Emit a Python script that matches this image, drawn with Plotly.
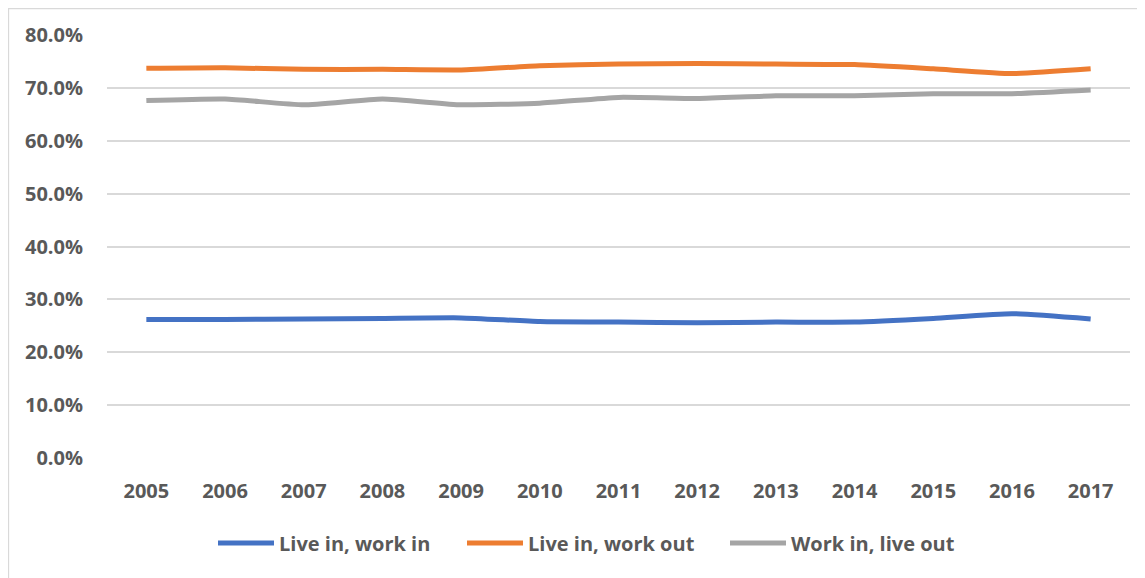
import plotly.graph_objects as go

years = ["2005", "2006", "2007", "2008", "2009", "2010", "2011",
         "2012", "2013", "2014", "2015", "2016", "2017"]
live_in_work_in = [0.262, 0.262, 0.263, 0.264, 0.265, 0.258, 0.257,
                   0.256, 0.257, 0.257, 0.264, 0.273, 0.263]
live_in_work_out = [0.737, 0.738, 0.735, 0.735, 0.734, 0.742, 0.745,
                    0.746, 0.745, 0.744, 0.736, 0.727, 0.736]
work_in_live_out = [0.676, 0.679, 0.668, 0.679, 0.668, 0.671, 0.682,
                    0.680, 0.685, 0.685, 0.689, 0.689, 0.696]
y_ticks = [0, 0.1, 0.2, 0.3, 0.4, 0.5, 0.6, 0.7, 0.8]

series_names = ["Live in, work in", "Live in, work out", "Work in, live out"]
series_values = [live_in_work_in, live_in_work_out, work_in_live_out]
series_colors = ["#4472C4", "#ED7D31", "#A5A5A5"]

font_family = "Open Sans, Liberation Sans, sans-serif"

fig = go.Figure()
for name, vals, color in zip(series_names, series_values, series_colors):
    fig.add_trace(go.Scatter(
        x=years, y=vals, name=name, mode="lines",
        line=dict(color=color, width=5, shape="spline", smoothing=0.5),
        hoverinfo="skip", showlegend=False,
    ))

# custom legend (long line swatches like the original)
plot_left, plot_w = 107, 1023
legend_starts_px = [218, 467, 730]
swatch_len_px = 56
legend_y = -0.201
shapes = []
annotations = []
for name, color, start in zip(series_names, series_colors, legend_starts_px):
    x0 = (start - plot_left) / plot_w
    x1 = (start + swatch_len_px - plot_left) / plot_w
    shapes.append(dict(type="line", xref="paper", yref="paper",
                       x0=x0, x1=x1, y0=legend_y, y1=legend_y,
                       line=dict(color=color, width=5)))
    annotations.append(dict(xref="paper", yref="paper", x=x1 + 3 / plot_w, y=legend_y,
                            xanchor="left", yanchor="middle", showarrow=False,
                            text=name,
                            font=dict(size=20, color="#595959", family=font_family,
                                      weight="bold")))

shapes.append(dict(
    type="rect", xref="paper", yref="paper",
    x0=(8.5 - plot_left) / plot_w, x1=1.2, y0=-0.6, y1=(458 - 8.5) / 423,
    line=dict(color="#D9D9D9", width=1.3), fillcolor="rgba(0,0,0,0)",
    layer="below",
))

fig.update_layout(
    width=1137, height=570,
    margin=dict(l=99, r=15, t=27, b=120),
    paper_bgcolor="white", plot_bgcolor="white",
    font=dict(family=font_family, color="#595959"),
    showlegend=False,
    xaxis=dict(
        type="category", range=[-0.5, 12.5],
        showgrid=False, showline=False, zeroline=False,
        tickfont=dict(size=20, color="#595959", family=font_family, weight="bold"),
        ticks="outside", ticklen=15, tickcolor="rgba(0,0,0,0)",
    ),
    yaxis=dict(
        range=[0, 0.8], tickvals=y_ticks, tickformat=".1%",
        showgrid=True, gridcolor="#D9D9D9", gridwidth=1.5,
        zeroline=False, showline=False,
        tickfont=dict(size=20, color="#595959", family=font_family, weight="bold"),
        ticks="outside", ticklen=19, tickcolor="rgba(0,0,0,0)",
    ),
    shapes=shapes,
    annotations=annotations,
)

fig.write_html("out.html")
